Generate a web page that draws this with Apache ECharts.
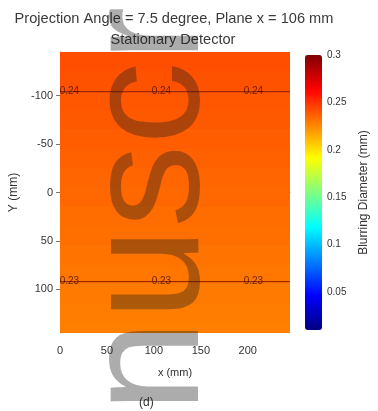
<!DOCTYPE html>
<html>
<head>
<meta charset="utf-8">
<script src="https://cdn.jsdelivr.net/npm/echarts@6/dist/echarts.min.js"></script>
<style>
  html, body { margin: 0; padding: 0; background: #ffffff; }
  #chart { width: 378px; height: 411px; }
</style>
</head>
<body>
<div id="chart"></div>
<script>
// Blur map over the plane: value per horizontal band (y in mm, top to bottom)
const rowEdges = [-145, -125, -105, -85, -65, -45, -25, -5, 15, 35, 55, 75, 95, 115, 135, 145];
const rowValues = [0.2416, 0.2405, 0.2395, 0.2385, 0.2373, 0.2362, 0.2352, 0.2342,
                   0.2333, 0.2323, 0.2313, 0.2302, 0.2293, 0.2284, 0.2278];
const xExtent = [0, 245];

// Contour lines: level, y position (mm) and label positions along x (mm)
const contourLevels = [0.24, 0.23];
const contourY = [-104, 92];
const contourLabelX = [10, 108, 206];

// Axis tick labels
const xTicks = [0, 50, 100, 150, 200];
const yTicks = [-100, -50, 0, 50, 100];
const cbTicks = [0.05, 0.1, 0.15, 0.2, 0.25, 0.3];
const cbRange = [0.01, 0.3];

const FONT = 'Liberation Sans, Arial, sans-serif';

const cells = rowValues.map((v, i) => [xExtent[0], xExtent[1], rowEdges[i], rowEdges[i + 1], v]);

const contourSeries = [];
contourLevels.forEach((lev, k) => {
  contourSeries.push({
    type: 'line',
    xAxisIndex: 0, yAxisIndex: 0,
    data: [[xExtent[0], contourY[k]], [xExtent[1], contourY[k]]],
    symbol: 'none',
    lineStyle: { color: '#8a1a00', width: 1 },
    silent: true, z: 5
  });
  contourSeries.push({
    type: 'scatter',
    xAxisIndex: 0, yAxisIndex: 0,
    data: contourLabelX.map(x => [x, contourY[k]]),
    symbolSize: 0,
    label: {
      show: true, position: 'inside',
      formatter: () => lev.toFixed(2),
      fontFamily: FONT, fontSize: 10, color: '#4a0e00'
    },
    silent: true, z: 6
  });
});

const chart = echarts.init(document.getElementById('chart'), null, { renderer: 'canvas' });

chart.setOption({
  backgroundColor: '#ffffff',
  animation: false,
  textStyle: { fontFamily: FONT },
  title: [
    {
      text: 'Projection Angle = 7.5 degree, Plane x = 106 mm',
      left: 169, top: 6, textAlign: 'center',
      textStyle: { fontFamily: FONT, fontSize: 14.6, fontWeight: 'normal', color: '#3a3a3a' }
    },
    {
      text: 'Stationary Detector',
      left: 168, top: 27, textAlign: 'center',
      textStyle: { fontFamily: FONT, fontSize: 14.6, fontWeight: 'normal', color: '#3a3a3a' }
    }
  ],
  grid: [
    { left: 58, top: 52, width: 232, height: 281 },
    { left: 305, top: 55, width: 17, height: 275 }
  ],
  xAxis: [
    {
      gridIndex: 0, type: 'value', min: xExtent[0], max: xExtent[1],
      name: 'x (mm)', nameLocation: 'middle', nameGap: 34,
      nameTextStyle: { fontFamily: FONT, fontSize: 11, color: '#333333' },
      axisLine: { show: true, lineStyle: { color: '#999999', width: 1 } },
      axisTick: { show: true, inside: true, length: 3, customValues: xTicks, lineStyle: { color: '#777777' } },
      axisLabel: { customValues: xTicks, fontFamily: FONT, fontSize: 11, color: '#333333', margin: 12 },
      splitLine: { show: false }
    },
    {
      gridIndex: 1, type: 'value', min: 0, max: 1, show: false
    }
  ],
  yAxis: [
    {
      gridIndex: 0, type: 'value', inverse: true, min: rowEdges[0], max: rowEdges[rowEdges.length - 1],
      name: 'Y (mm)', nameLocation: 'middle', nameGap: 40, nameRotate: 90,
      nameTextStyle: { fontFamily: FONT, fontSize: 12, color: '#333333' },
      axisLine: { show: true, lineStyle: { color: '#999999', width: 1 } },
      axisTick: { show: true, inside: false, length: 4, customValues: yTicks, lineStyle: { color: '#777777' } },
      axisLabel: { customValues: yTicks, fontFamily: FONT, fontSize: 11, color: '#333333', margin: 7 },
      splitLine: { show: false }
    },
    {
      gridIndex: 1, type: 'value', min: cbRange[0], max: cbRange[1], position: 'right',
      name: 'Blurring Diameter (mm)', nameLocation: 'middle', nameGap: 36, nameRotate: 90,
      nameTextStyle: { fontFamily: FONT, fontSize: 12, color: '#333333' },
      axisLine: { show: false },
      axisTick: { show: false },
      axisLabel: {
        customValues: cbTicks, fontFamily: FONT, fontSize: 10, color: '#333333', margin: 5,
        formatter: v => String(Number(v.toFixed(2)))
      },
      splitLine: { show: false }
    }
  ],
  visualMap: {
    type: 'continuous',
    min: cbRange[0], max: cbRange[1],
    seriesIndex: 0, dimension: 4,
    orient: 'vertical',
    left: 305, top: 55, padding: 0,
    itemWidth: 17, itemHeight: 275,
    calculable: false, text: null, showLabel: false,
    inRange: {
      color: ['#000080', '#0000ff', '#0080ff', '#00ffff', '#80ff80',
              '#ffff00', '#ff8000', '#ff0000', '#800000']
    }
  },
  series: [
    {
      type: 'custom',
      xAxisIndex: 0, yAxisIndex: 0,
      data: cells,
      encode: { x: [0, 1], y: [2, 3] },
      clip: true,
      renderItem: (params, api) => {
        const p0 = api.coord([api.value(0), api.value(2)]);
        const p1 = api.coord([api.value(1), api.value(3)]);
        return {
          type: 'rect',
          shape: {
            x: Math.min(p0[0], p1[0]),
            y: Math.min(p0[1], p1[1]) - 0.5,
            width: Math.abs(p1[0] - p0[0]),
            height: Math.abs(p1[1] - p0[1]) + 1
          },
          style: { fill: api.visual('color') }
        };
      },
      silent: true, z: 1
    },
    ...contourSeries
  ],
  graphic: [
    {
      type: 'text', left: 139, top: 397,
      style: { text: '(d)', fontFamily: FONT, fontSize: 12, fill: '#333333' }
    },
    {
      type: 'text', x: 152, y: 643, rotation: Math.PI / 2, z: 100, silent: true,
      style: {
        text: 'manuscript', x: 0, y: 0, align: 'left', verticalAlign: 'middle',
        fontFamily: FONT, fontSize: 166, fill: 'rgba(30,30,30,0.37)'
      }
    }
  ]
});
</script>
</body>
</html>
